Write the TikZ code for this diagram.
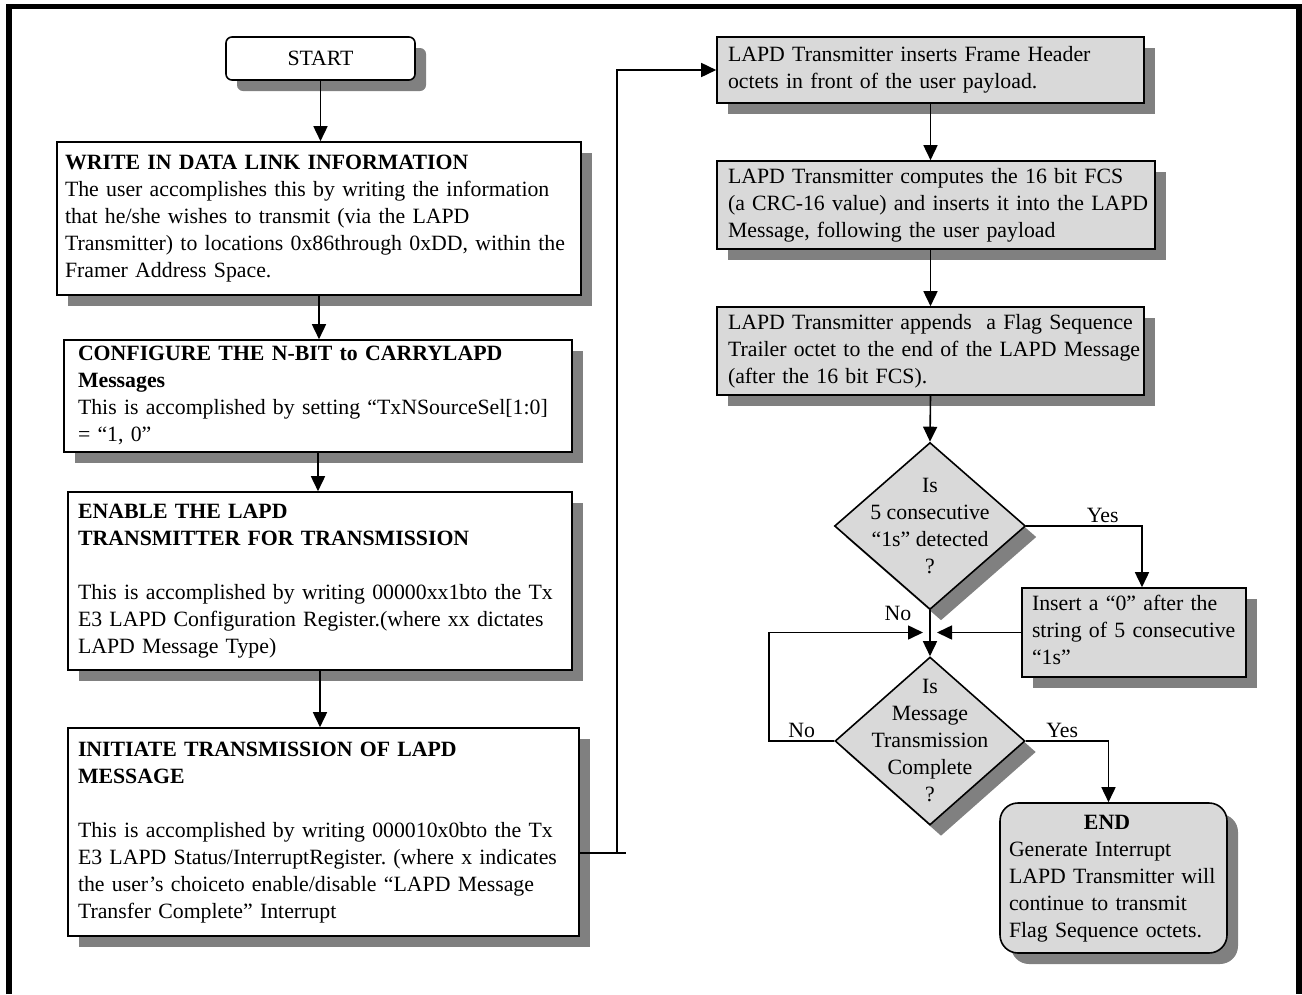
\documentclass[tikz,border=0pt]{standalone}
\usepackage{fontspec}
\setmainfont{Liberation Serif}
\usetikzlibrary{shapes.geometric,shadows,arrows.meta,positioning}
\definecolor{boxgray}{HTML}{D9D9D9}
\definecolor{shadowgray}{HTML}{808080}
\tikzset{
  boxshadow/.style={drop shadow={shadow xshift=11pt,shadow yshift=-11pt,fill=shadowgray,opacity=1}},
  procbox/.style={rectangle,draw,line width=1.6pt,fill=white,boxshadow,align=left,inner ysep=0pt,inner xsep=10pt},
  graybox/.style={procbox,fill=boxgray},
  termbox/.style={procbox,rounded corners=6pt,align=center},
  decision/.style={diamond,draw,line width=1.6pt,fill=boxgray,boxshadow,inner sep=0pt},
  qtext/.style={align=center,inner sep=0pt},
  arr/.style={line width=1.6pt,-{Triangle[width=14pt,length=15pt]}},
  link/.style={line width=1.6pt},
  lbl/.style={inner sep=2pt},
}

\begin{document}
\begin{tikzpicture}[x=1pt,y=-1pt,font=\fontsize{21.8}{27}\selectfont\frenchspacing]
      \useasboundingbox (0,0) rectangle (1302,994);
      % outer frame
      \draw[line width=5.5pt] (9,994) -- (9,6.5) -- (1299,6.5) -- (1299,994);

      % left column
      \node[termbox, minimum width=189pt, minimum height=43pt] (start) at (320.5,58.5) {START};
      \node[procbox, text width=508pt, inner xsep=8pt, minimum height=153pt] (write) at (319,218.5)
        {\begin{tabular}{@{}l@{}}\textbf{WRITE IN DATA LINK INFORMATION}\\The user accomplishes this by writing the information\\that he/she wishes to transmit (via the LAPD\\Transmitter) to locations 0x86through 0xDD, within the\\Framer Address Space.\end{tabular}};
      \node[procbox, text width=480pt, inner xsep=14pt, minimum height=112pt] (config) at (318,396)
        {\begin{tabular}{@{}l@{}}\textbf{CONFIGURE THE N-BIT to CARRYLAPD}\\\textbf{Messages}\\This is accomplished by setting “TxNSourceSel[1:0]\\= “1, 0”\end{tabular}};
      \node[procbox, text width=484pt, inner xsep=10pt, minimum height=178pt] (enable) at (320,581)
        {\begin{tabular}{@{}l@{}}\textbf{ENABLE THE LAPD}\\\textbf{TRANSMITTER FOR TRANSMISSION}\\[27pt]This is accomplished by writing 00000xx1bto the Tx\\E3 LAPD Configuration Register.(where xx dictates\\LAPD Message Type)\end{tabular}};
      \node[procbox, text width=491pt, inner xsep=10pt, minimum height=208pt] (initiate) at (323.5,832)
        {\begin{tabular}{@{}l@{}}\textbf{INITIATE TRANSMISSION OF LAPD}\\\textbf{MESSAGE}\\[27pt]This is accomplished by writing 000010x0bto the Tx\\E3 LAPD Status/InterruptRegister. (where x indicates\\the user’s choiceto enable/disable “LAPD Message\\Transfer Complete” Interrupt\end{tabular}};

      % right column
      \node[graybox, text width=405pt, inner xsep=11pt, minimum height=66pt] (header) at (930.5,70)
        {\begin{tabular}{@{}l@{}}LAPD Transmitter inserts Frame Header\\octets in front of the user payload.\end{tabular}};
      \node[graybox, text width=416pt, inner xsep=11pt, minimum height=88pt] (fcs) at (936,205)
        {\begin{tabular}{@{}l@{}}LAPD Transmitter computes the 16 bit FCS\\(a CRC-16 value) and inserts it into the LAPD\\Message, following the user payload\end{tabular}};
      \node[graybox, text width=405pt, inner xsep=11pt, minimum height=88pt] (trailer) at (930.5,351)
        {\begin{tabular}{@{}l@{}}LAPD Transmitter appends~ a Flag Sequence\\Trailer octet to the end of the LAPD Message\\(after the 16 bit FCS).\end{tabular}};
      \node[decision, minimum width=191pt, minimum height=167pt,
        label={[qtext]center:{Is\\5 consecutive\\“1s” detected\\?}}] (ones) at (930,526) {};
      \node[graybox, text width=204pt, inner xsep=10pt, minimum height=89pt] (stuff) at (1134,632.5)
        {\begin{tabular}{@{}l@{}}Insert a “0” after the\\string of 5 consecutive\\“1s”\end{tabular}};
      \node[decision, minimum width=190pt, minimum height=168pt,
        label={[qtext]center:{Is\\Message\\Transmission\\Complete\\?}}] (done) at (930,741) {};
      \node[graybox, rounded corners=18pt, text width=209pt, inner xsep=9pt, minimum height=150pt] (finish) at (1113.5,878)
        {\begin{tabular}{@{}l@{}}\makebox[196pt]{\textbf{END}}\\Generate Interrupt\\LAPD Transmitter will\\continue to transmit\\Flag Sequence octets.\end{tabular}};

      % connectors
      \draw[arr] (start.south) -- (start.south |- write.north);
      \draw[arr] (write.south) -- (write.south |- config.north);
      \draw[arr] (config.south) -- (config.south |- enable.north);
      \draw[arr] (enable.south) -- (enable.south |- initiate.north);

      \coordinate (riser) at (617,853);
      \draw[link] (initiate.east |- riser) -- ([xshift=9pt]riser);
      \draw[arr] (riser) |- (header.west);

      \draw[arr] (header.south) -- (header.south |- fcs.north);
      \draw[arr] (header.south |- fcs.south) -- (header.south |- trailer.north);
      \draw[arr] (trailer.south) -- (ones.north);

      \draw[arr] (ones.east) -| ([xshift=8pt]stuff.north) node[lbl, pos=0.33, above] {Yes};
      \draw[arr] (ones.south) -- (done.north) node[lbl, pos=0, anchor=east, xshift=-16pt, yshift=-3pt] {No};
      \draw[arr, shorten >=7pt] (stuff.west) -- (stuff.west -| ones.south);
      \draw[arr, shorten >=7pt] (done.west) -- ++(-65,0) node[lbl, midway, above] {No} |- (stuff.west -| ones.south);
      \draw[arr] (done.east) -| ([xshift=-5pt]finish.north) node[lbl, pos=0.22, above] {Yes};
    \end{tikzpicture}
\end{document}
